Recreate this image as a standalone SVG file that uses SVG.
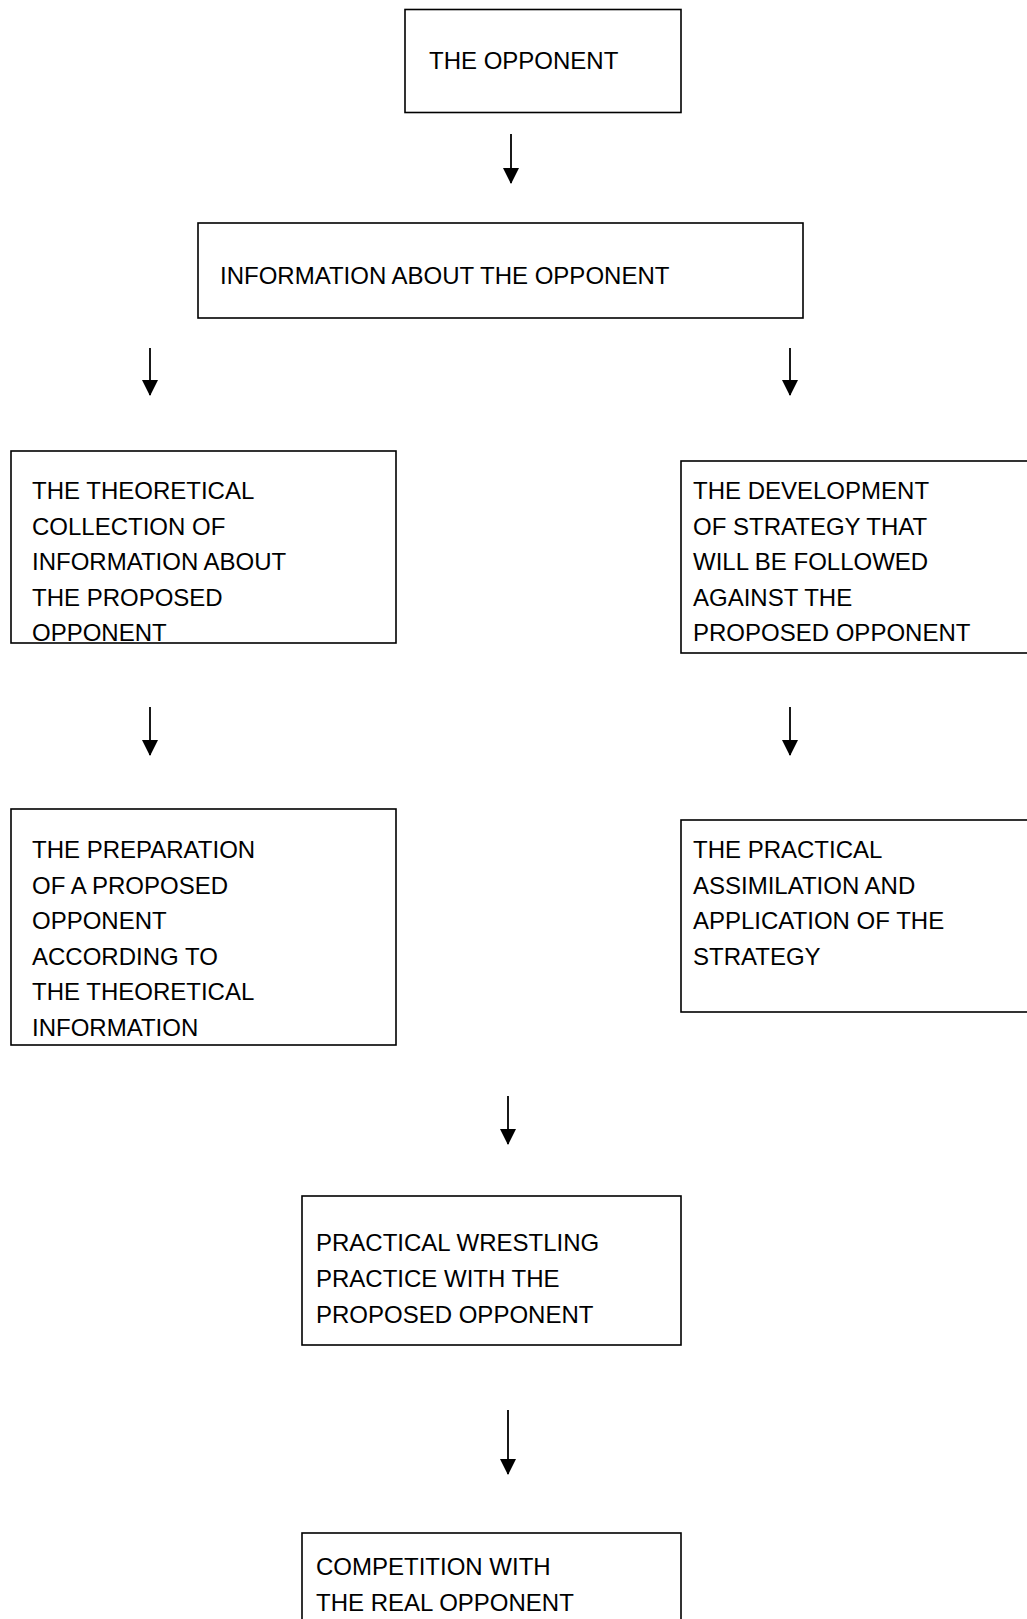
<svg xmlns="http://www.w3.org/2000/svg" width="1027" height="1619" viewBox="0 0 1027 1619">
<style>
.box{fill:#fff;stroke:#000;stroke-width:1.6}
.t{font-family:"Liberation Sans",Arial,sans-serif;font-size:24px;fill:#000}
.c{stroke:#000;stroke-width:1.8;fill:none;marker-end:url(#ah)}
</style>
<defs>
<marker id="ah" markerUnits="userSpaceOnUse" markerWidth="16" markerHeight="16" viewBox="0 0 16 16" refX="15" refY="8" orient="auto">
<path d="M0,0 L16,8 L0,16 Z" fill="#000"/>
</marker>
</defs>
<rect width="1027" height="1619" fill="#fff"/>
<g id="connectors">
<line class="c" x1="511" y1="134" x2="511" y2="183"/>
<line class="c" x1="150" y1="348" x2="150" y2="395"/>
<line class="c" x1="790" y1="348" x2="790" y2="395"/>
<line class="c" x1="150" y1="707" x2="150" y2="755"/>
<line class="c" x1="790" y1="707" x2="790" y2="755"/>
<line class="c" x1="508" y1="1096" x2="508" y2="1144"/>
<line class="c" x1="508" y1="1410" x2="508" y2="1474"/>
</g>
<g id="n1">
<rect class="box" x="405" y="9.5" width="276" height="103"/>
<text class="t" x="429" y="69">THE OPPONENT</text>
</g>
<g id="n2">
<rect class="box" x="198" y="223" width="605" height="95"/>
<text class="t" x="220" y="284">INFORMATION ABOUT THE OPPONENT</text>
</g>
<g id="n3">
<rect class="box" x="11" y="451" width="385" height="192"/>
<text class="t" x="32" y="499">THE THEORETICAL</text>
<text class="t" x="32" y="534.5">COLLECTION OF</text>
<text class="t" x="32" y="570">INFORMATION ABOUT</text>
<text class="t" x="32" y="605.5">THE PROPOSED</text>
<text class="t" x="32" y="641">OPPONENT</text>
</g>
<g id="n4">
<rect class="box" x="681" y="461" width="370" height="192"/>
<text class="t" x="693" y="499">THE DEVELOPMENT</text>
<text class="t" x="693" y="534.5">OF STRATEGY THAT</text>
<text class="t" x="693" y="570">WILL BE FOLLOWED</text>
<text class="t" x="693" y="605.5">AGAINST THE</text>
<text class="t" x="693" y="641">PROPOSED OPPONENT</text>
</g>
<g id="n5">
<rect class="box" x="11" y="809" width="385" height="236"/>
<text class="t" x="32" y="858">THE PREPARATION</text>
<text class="t" x="32" y="893.5">OF A PROPOSED</text>
<text class="t" x="32" y="929">OPPONENT</text>
<text class="t" x="32" y="964.5">ACCORDING TO</text>
<text class="t" x="32" y="1000">THE THEORETICAL</text>
<text class="t" x="32" y="1035.5">INFORMATION</text>
</g>
<g id="n6">
<rect class="box" x="681" y="820" width="370" height="192"/>
<text class="t" x="693" y="858">THE PRACTICAL</text>
<text class="t" x="693" y="893.5">ASSIMILATION AND</text>
<text class="t" x="693" y="929">APPLICATION OF THE</text>
<text class="t" x="693" y="964.5">STRATEGY</text>
</g>
<g id="n7">
<rect class="box" x="302" y="1196" width="379" height="149"/>
<text class="t" x="316" y="1251">PRACTICAL WRESTLING</text>
<text class="t" x="316" y="1287">PRACTICE WITH THE</text>
<text class="t" x="316" y="1323">PROPOSED OPPONENT</text>
</g>
<g id="n8">
<rect class="box" x="302" y="1533" width="379" height="120"/>
<text class="t" x="316" y="1575">COMPETITION WITH</text>
<text class="t" x="316" y="1611">THE REAL OPPONENT</text>
</g>
</svg>
